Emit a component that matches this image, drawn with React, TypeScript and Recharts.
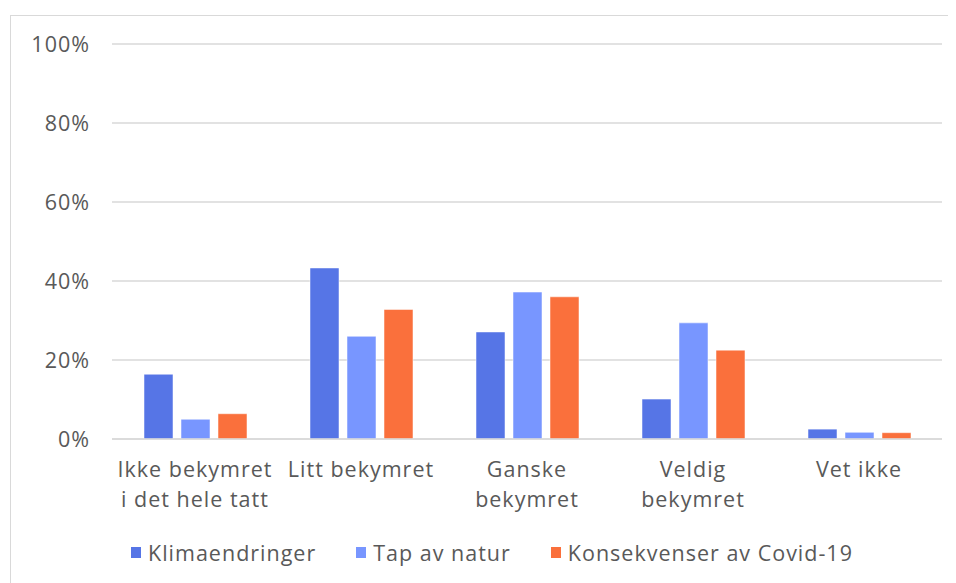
import React from "react";
import { BarChart, Bar, XAxis, YAxis, CartesianGrid, Legend } from "recharts";

const categories = [
  "Ikke bekymret\ni det hele tatt",
  "Litt bekymret",
  "Ganske\nbekymret",
  "Veldig\nbekymret",
  "Vet ikke",
];
const klimaendringer = [16.4, 43.3, 27.1, 10.1, 2.5];
const tapAvNatur = [5.0, 26.0, 37.2, 29.4, 1.7];
const covid = [6.4, 32.8, 36.0, 22.5, 1.6];
const yTicks = [0, 20, 40, 60, 80, 100];

const seriesNames = ["Klimaendringer", "Tap av natur", "Konsekvenser av Covid-19"];
const colors = ["#5675E6", "#7896FF", "#FA703C"];

const data = categories.map((c, i) => ({
  name: c,
  k: klimaendringer[i],
  t: tapAvNatur[i],
  c: covid[i],
}));

const FONT = "'Open Sans', Lato, sans-serif";
const TEXT = "#595959";
const FS = 21.5;
const LS = 1;

const XTick = (props: any) => {
  const { x, y, payload } = props;
  const lines = String(payload.value).split("\n");
  return (
    <text x={x} y={y + 38} textAnchor="middle" fill={TEXT} fontSize={FS} fontFamily={FONT} letterSpacing={LS}>
      {lines.map((l, i) => (
        <tspan key={i} x={x} dy={i === 0 ? 0 : 30}>
          {l}
        </tspan>
      ))}
    </text>
  );
};

const LegendContent = () => (
  <div
    style={{
      display: "flex",
      alignItems: "center",
      paddingLeft: 123,
      fontFamily: FONT,
      fontSize: FS,
      letterSpacing: LS,
      color: TEXT,
      height: 30,
    }}
  >
    {seriesNames.map((n, i) => (
      <div key={n} style={{ display: "flex", alignItems: "center", marginRight: 40 }}>
        <div style={{ width: 10, height: 11, background: colors[i], marginRight: 7 }} />
        <span>{n}</span>
      </div>
    ))}
  </div>
);

export default function App() {
  return (
    <div style={{ position: "relative", width: 948, height: 575, background: "#fff", overflow: "hidden" }}>
      <div
        style={{
          position: "absolute",
          left: 2,
          top: 7,
          width: 960,
          height: 600,
          borderLeft: "1.5px solid #d9d9d9",
          borderTop: "1.5px solid #d9d9d9",
        }}
      />
      <div style={{ position: "absolute", left: 0, top: 0 }}>
        <BarChart
          width={948}
          height={567}
          data={data}
          margin={{ top: 36, right: 14, bottom: 0, left: 0 }}
          barGap={8}
          barSize={29}
        >
          <CartesianGrid vertical={false} stroke="#d9d9d9" strokeWidth={1.5} />
          <XAxis
            dataKey="name"
            height={136}
            tickLine={false}
            tickSize={0}
            tickMargin={0}
            axisLine={{ stroke: "#d9d9d9", strokeWidth: 1.5 }}
            tick={<XTick />}
            interval={0}
          />
          <YAxis
            width={104}
            domain={[0, 100]}
            ticks={yTicks}
            axisLine={false}
            tickLine={false}
            tickSize={0}
            tickMargin={22}
            tickFormatter={(v: number) => `${v}%`}
            tick={{ fill: TEXT, fontSize: FS, fontFamily: FONT, letterSpacing: LS }}
          />
          <Legend
            layout="horizontal"
            verticalAlign="middle"
            align="center"
            wrapperStyle={{ top: 529, left: 0, width: 948 }}
            content={<LegendContent />}
          />
          <Bar dataKey="k" name={seriesNames[0]} fill={colors[0]} stroke="#ffffff" strokeOpacity={0.5} strokeWidth={1} isAnimationActive={false} />
          <Bar dataKey="t" name={seriesNames[1]} fill={colors[1]} stroke="#ffffff" strokeOpacity={0.5} strokeWidth={1} isAnimationActive={false} />
          <Bar dataKey="c" name={seriesNames[2]} fill={colors[2]} stroke="#ffffff" strokeOpacity={0.5} strokeWidth={1} isAnimationActive={false} />
        </BarChart>
      </div>
    </div>
  );
}
